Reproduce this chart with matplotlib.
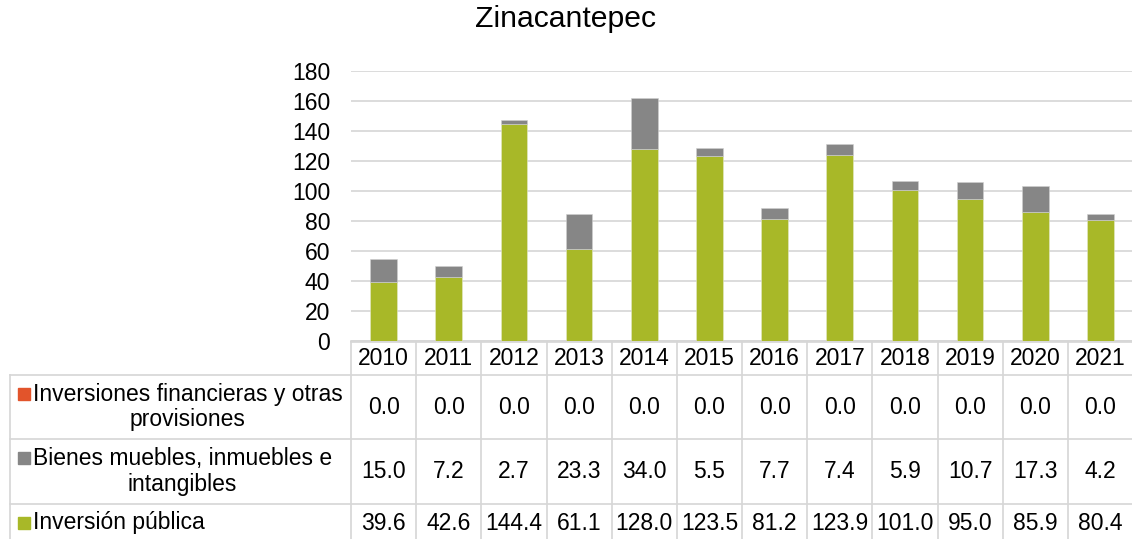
# stacked bars with an Excel-like data table underneath

import matplotlib.pyplot as plt
import matplotlib.transforms as mtransforms
import numpy as np

plt.rcParams['font.family'] = ['Liberation Sans', 'DejaVu Sans']

years = ['2010', '2011', '2012', '2013', '2014', '2015',
         '2016', '2017', '2018', '2019', '2020', '2021']
inversion_publica = [39.6, 42.6, 144.4, 61.1, 128.0, 123.5, 81.2, 123.9, 101.0, 95.0, 85.9, 80.4]
bienes_muebles = [15.0, 7.2, 2.7, 23.3, 34.0, 5.5, 7.7, 7.4, 5.9, 10.7, 17.3, 4.2]
inversiones_fin = [0.0, 0.0, 0.0, 0.0, 0.0, 0.0, 0.0, 0.0, 0.0, 0.0, 0.0, 0.0]

series = [
    ('Inversiones financieras y otras\nprovisiones', inversiones_fin, '#E2542B'),
    ('Bienes muebles, inmuebles e\nintangibles', bienes_muebles, '#868686'),
    ('Inversión pública', inversion_publica, '#A8B828'),
]

W, H = 1132, 539
grid_color = '#D6D6D6'
fs = 16.5

def fy(py):
    return 1 - py / H

def fx(px):
    return px / W

fig = plt.figure(figsize=(W / 100, H / 100), dpi=100)
ax = fig.add_axes([fx(351), fy(341), fx(1133) - fx(351), fy(71) - fy(341)])

x = np.arange(len(years))
bar_width = 0.41

# bars, bottom series first
ax.bar(x, inversion_publica, bar_width, color='#A8B828', edgecolor='#e4e8c8', linewidth=0.4, zorder=3)
bottom2 = np.array(inversion_publica)
ax.bar(x, bienes_muebles, bar_width, bottom=bottom2, color='#868686', edgecolor='#d0d0d0', linewidth=0.4, zorder=3)
bottom3 = bottom2 + np.array(bienes_muebles)
ax.bar(x, inversiones_fin, bar_width, bottom=bottom3, color='#E2542B', linewidth=0, zorder=3)

ax.set_xlim(-0.5, len(years) - 0.5)
ax.set_ylim(0, 180)
ax.set_yticks(np.arange(0, 181, 20))
ax.set_xticks([])
ax.yaxis.grid(True, color=grid_color, linewidth=1.2)
ax.set_axisbelow(True)
for s in ['left', 'right', 'top']:
    ax.spines[s].set_visible(False)
ax.spines['bottom'].set_color(grid_color)
ax.spines['bottom'].set_linewidth(1.2)
ax.tick_params(axis='y', length=0, pad=15, labelsize=fs)

fig.text(fx(565), fy(19), 'Zinacantepec', ha='center', va='center', fontsize=21.7)

# data table
blend = mtransforms.blended_transform_factory(ax.transData, fig.transFigure)
row_edges = [342, 375, 439, 504, 545]
row_centers = [(row_edges[i] + row_edges[i + 1]) / 2 for i in range(4)]
row_centers[3] = 523

line_kw = dict(color=grid_color, linewidth=1.2, clip_on=False)
# horizontal lines
fig.add_artist(plt.Line2D([-0.5, len(years) - 0.5], [fy(342), fy(342)], transform=blend, **line_kw))
for py in row_edges[1:4]:
    fig.add_artist(plt.Line2D([fx(10), fx(W + 5)], [fy(py), fy(py)], transform=fig.transFigure, **line_kw))
# vertical lines
for k in range(len(years) + 1):
    fig.add_artist(plt.Line2D([k - 0.5, k - 0.5], [fy(342), fy(545)], transform=blend, **line_kw))
fig.add_artist(plt.Line2D([fx(10), fx(10)], [fy(375), fy(545)], transform=fig.transFigure, **line_kw))

# header
for i, yr in enumerate(years):
    fig.text(i, fy(row_centers[0]), yr, transform=blend, ha='center', va='center', fontsize=fs)

# rows
for r, (label, vals, color) in enumerate(series):
    yc = row_centers[r + 1]
    nlines = label.count('\n') + 1
    first_line_y = yc - (nlines - 1) * 13.5
    fig.patches.append(plt.Rectangle((fx(18), fy(first_line_y + 6)), fx(12), fy(0) - fy(12),
                                     transform=fig.transFigure, color=color, figure=fig))
    fig.text(fx(33), fy(yc), label, ha='left', va='center', multialignment='center',
             fontsize=fs, linespacing=1.15)
    for i, v in enumerate(vals):
        fig.text(i, fy(yc), f'{v:.1f}', transform=blend, ha='center', va='center', fontsize=fs)

fig.savefig('out.png', dpi=100)
